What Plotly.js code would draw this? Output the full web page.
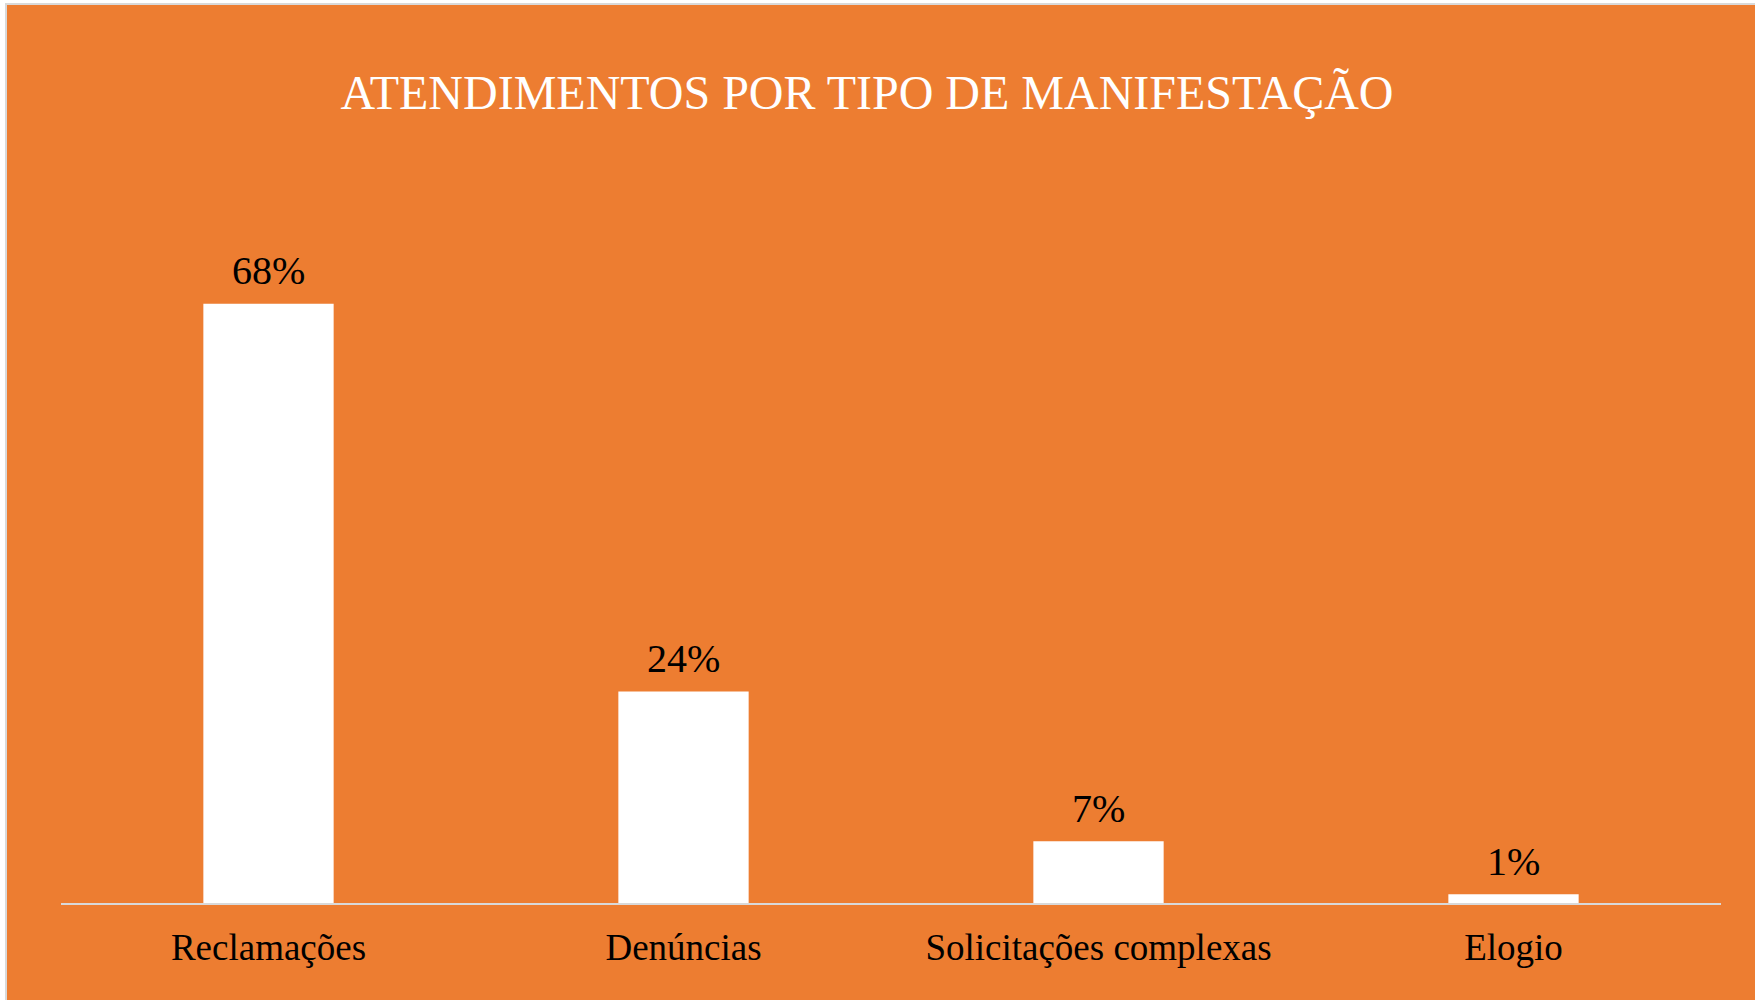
<!DOCTYPE html>
<html>
<head>
<meta charset="utf-8">
<script src="https://cdn.plot.ly/plotly-3.0.1.min.js"></script>
<style>
  html, body { margin: 0; padding: 0; background: #ffffff; overflow: hidden; }
  #chart { position: absolute; left: 5px; top: 3px; width: 1750px; height: 997px;
           border-left: 2px solid #d9d9d9; border-top: 2px solid #d9d9d9; }
</style>
</head>
<body>
<div id="chart"></div>
<script>
const chartTitle = "ATENDIMENTOS POR TIPO DE MANIFESTAÇÃO";
const categories = ["Reclamações", "Denúncias", "Solicitações complexas", "Elogio"];
const percentages = [68, 24, 7, 1];
const valueLabels = ["68%", "24%", "7%", "1%"];

const serif = "Liberation Serif, Times New Roman, serif";

const trace = {
  type: "bar",
  x: categories,
  y: percentages,
  marker: { color: "#ffffff", line: { width: 0 } },
  hoverinfo: "skip"
};

const annotations = categories.map((c, i) => ({
  x: c, y: percentages[i], xref: "x", yref: "y",
  text: valueLabels[i], showarrow: false,
  yanchor: "middle", yshift: 33,
  font: { family: serif, size: 40, color: "#000000" }
}));

const layout = {
  width: 1750, height: 997,
  paper_bgcolor: "#ED7D31",
  plot_bgcolor: "#ED7D31",
  margin: { l: 54, r: 36, t: 193, b: 99, pad: 0 },
  bargap: 0.686,
  showlegend: false,
  title: {
    text: chartTitle,
    font: { family: serif, size: 48, color: "#ffffff" },
    xref: "container", yref: "container",
    x: 0.4914, xanchor: "center",
    y: 1 - 87 / 997, yanchor: "middle"
  },
  xaxis: {
    type: "category",
    showline: true, linecolor: "#d9d9d9", linewidth: 2,
    showgrid: false, zeroline: false, ticks: "",
    ticklabelstandoff: 11,
    tickfont: { family: serif, size: 37, color: "#000000" }
  },
  yaxis: {
    range: [0, 80],
    visible: false, showgrid: false, zeroline: false
  },
  annotations: annotations
};

Plotly.newPlot("chart", [trace], layout, { displayModeBar: false, staticPlot: true });
</script>
</body>
</html>
